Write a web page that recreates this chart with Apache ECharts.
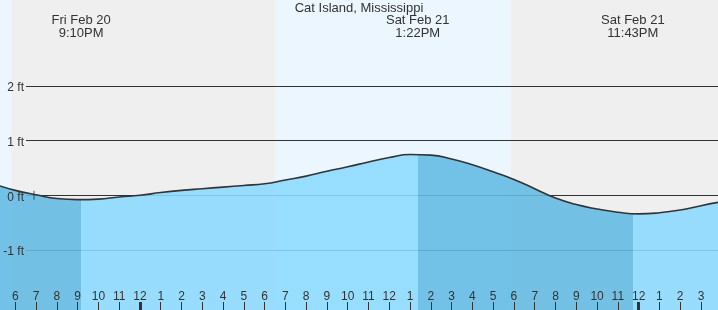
<!DOCTYPE html>
<html>
<head>
<meta charset="utf-8">
<script src="https://cdn.jsdelivr.net/npm/echarts@6/dist/echarts.min.js"></script>
<style>
html,body{margin:0;padding:0;background:#fff}
#chart{width:718px;height:310px}
</style>
</head>
<body>
<div id="chart"></div>
<script>
// hours counted from Fri Feb 20, 6PM
const tideHours = [-0.74, 0,1,2,3,4,5,6,7,8,9,10,11,12,13,14,15,16,17,18,19,20,21,22,23,24,25,26,27,28,29,30,31,32,33, 33.82]
const tideFeet = [0.17, 0.09, 0.01, -0.06, -0.08, -0.07, -0.03, 0.00, 0.05, 0.09, 0.12, 0.15, 0.18, 0.21, 0.28, 0.35, 0.44, 0.52, 0.61, 0.69, 0.745, 0.735, 0.665, 0.56, 0.43, 0.29, 0.12, -0.05, -0.17, -0.25, -0.31, -0.34, -0.32, -0.27, -0.19, -0.13]

const extremeHours = [3.17, 19.37, 29.72]
const extremeLabels = ['Fri Feb 20\n9:10PM', 'Sat Feb 21\n1:22PM', 'Sat Feb 21\n11:43PM']

// sunset, sunrise, sunset
const sunHours = [-0.2, 12.5, 23.85]

const tickHours = [0,1,2,3,4,5,6,7,8,9,10,11,12,13,14,15,16,17,18,19,20,21,22,23,24,25,26,27,28,29,30,31,32,33]
const tickLabels = ['6','7','8','9','10','11','12','1','2','3','4','5','6','7','8','9','10','11','12','1','2','3','4','5','6','7','8','9','10','11','12','1','2','3']
const midnightHours = [6, 30]

const feetTicks = [2, 1, 0, -1]
const nowHour = [0.9]

const xMin = -0.736, xMax = 33.82
const yMin = -2.097, yMax = 3.57

const font = '"Liberation Sans", Arial, sans-serif'
const dayColor = '#ebf6fe', nightColor = '#efefef'
const fallColor = '#62bae3', riseColor = '#8cdaff'

let chart = echarts.init(document.getElementById('chart'), null, {renderer: 'canvas'})

let bands = [
  [{xAxis: xMin, itemStyle: {color: dayColor}}, {xAxis: sunHours[0]}],
  [{xAxis: sunHours[0], itemStyle: {color: nightColor}}, {xAxis: sunHours[1]}],
  [{xAxis: sunHours[1], itemStyle: {color: dayColor}}, {xAxis: sunHours[2]}],
  [{xAxis: sunHours[2], itemStyle: {color: nightColor}}, {xAxis: xMax}]
]

let lineStart = xMin + 26 / 718 * (xMax - xMin)
let gridLines = feetTicks.map(v => [{coord: [lineStart, v]}, {coord: [xMax, v]}])

// falling tide darker, rising tide lighter
let pieces = []
let edges = [xMin - 1].concat(extremeHours, [xMax + 1])
for (let i = 0; i < edges.length - 1; i++) {
  pieces.push({gte: edges[i], lt: edges[i + 1], color: i % 2 == 0 ? fallColor : riseColor})
}

let tide = tideHours.map((h, i) => [h, tideFeet[i]])

let option = {
  animation: false,
  title: {
    text: 'Cat Island, Mississippi',
    left: 'center', top: 2, padding: 0, z: 20,
    textStyle: {fontFamily: font, fontSize: 13, fontWeight: 'normal', color: '#333'}
  },
  grid: {left: 0, right: 0, top: 0, bottom: 0},
  xAxis: [{
    type: 'value', min: xMin, max: xMax, z: 20,
    axisLine: {show: false, onZero: false},
    splitLine: {show: false},
    axisTick: {show: true, inside: true, length: 8, customValues: tickHours, lineStyle: {color: '#333', width: 1}},
    axisLabel: {inside: true, margin: 7, customValues: tickHours, color: '#333', fontFamily: font, fontSize: 12,
      formatter: v => tickLabels[tickHours.indexOf(Math.round(v))]}
  }, {
    type: 'value', min: xMin, max: xMax, position: 'bottom', z: 21,
    axisLine: {show: false, onZero: false},
    splitLine: {show: false},
    axisLabel: {show: false},
    axisTick: {show: true, inside: true, length: 8, customValues: midnightHours, lineStyle: {color: '#333', width: 3}}
  }],
  yAxis: {
    type: 'value', min: yMin, max: yMax, z: 20,
    axisLine: {show: false, onZero: false}, axisTick: {show: false}, splitLine: {show: false},
    axisLabel: {inside: true, align: 'right', margin: 24, customValues: feetTicks,
      formatter: v => '{a|' + v + ' ft}',
      rich: {a: {color: '#333', fontFamily: font, fontSize: 12, padding: [4, 0, 0, 0]}}}
  },
  visualMap: {show: false, type: 'piecewise', dimension: 0, seriesIndex: 2, pieces: pieces},
  series: [{
    type: 'line', data: [], z: 0, silent: true,
    markArea: {silent: true, z: 0, data: bands}
  }, {
    type: 'line', data: [], z: 1, silent: true,
    markLine: {silent: true, z: 1, symbol: 'none', label: {show: false}, lineStyle: {color: '#333', width: 1, type: 'solid'}, data: gridLines}
  }, {
    type: 'line', data: tide, z: 2, smooth: 0.5, symbol: 'none', silent: true,
    lineStyle: {width: 0},
    areaStyle: {origin: 'start', opacity: 0.88}
  }, {
    type: 'line', data: tide, z: 3, smooth: 0.5, symbol: 'none', silent: true,
    lineStyle: {color: '#333', width: 1.6}
  }, {
    type: 'scatter', data: nowHour.map(h => [h, 0]), z: 4, silent: true,
    symbol: 'rect', symbolSize: [1, 9], itemStyle: {color: '#333'}
  }]
}
chart.setOption(option)

chart.setOption({
  graphic: extremeHours.map((h, i) => ({
    type: 'text', silent: true, z: 50,
    x: chart.convertToPixel({xAxisIndex: 0}, h), y: 14,
    style: {text: extremeLabels[i], align: 'center', verticalAlign: 'top', fill: '#333', font: '13px ' + font, lineHeight: 13}
  }))
})
</script>
</body>
</html>
